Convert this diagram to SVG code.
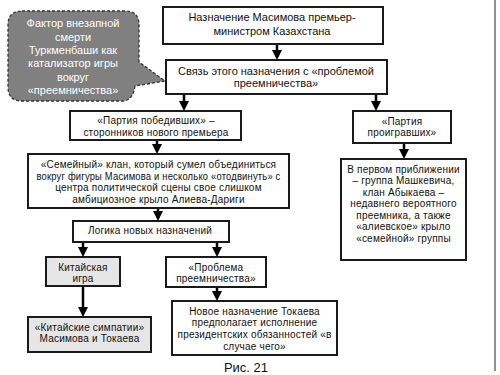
<svg xmlns="http://www.w3.org/2000/svg" width="500" height="375" viewBox="0 0 500 375">
<style>
.box{fill:#fff;stroke:#1a1a1a;stroke-width:2}
.gray{fill:#e6e6e6;stroke:#1a1a1a;stroke-width:2}
text{font-family:"Liberation Sans",Arial,sans-serif;fill:#111;text-anchor:middle}
.t11{font-size:11px}
.t10{font-size:10px;letter-spacing:0.2px}
.wt{fill:#fff;font-size:11px}
.conn line{stroke:#000;stroke-width:2.5;marker-end:url(#ah)}
</style>
<defs>
<marker id="ah" markerUnits="userSpaceOnUse" markerWidth="10" markerHeight="10" refX="7" refY="5" orient="auto" viewBox="0 0 10 10">
<path d="M0,0 L10,5 L0,10 z" fill="#000"/>
</marker>
</defs>
<rect width="500" height="375" fill="#fff"/>
<line x1="495" y1="0" x2="495" y2="371" stroke="#222" stroke-width="1"/>

<g id="callout">
<path d="M22,11 H125 Q139,11 139,25 V62 L165,81 L135,86 Q133,101 122,101 H22 Q8,101 8,87 V25 Q8,11 22,11 Z" fill="#808080" stroke="#333" stroke-width="1.3" stroke-dasharray="3,2"/>
<text class="wt" x="73" y="27">Фактор внезапной</text>
<text class="wt" x="73" y="41">смерти</text>
<text class="wt" x="73" y="54">Туркменбаши как</text>
<text class="wt" x="73" y="67">катализатор игры</text>
<text class="wt" x="73" y="81">вокруг</text>
<text class="wt" x="73" y="94">«преемничества»</text>
</g>

<g id="n1">
<rect class="box" x="163" y="7" width="220" height="37"/>
<text class="t11" x="272" y="21">Назначение Масимова премьер-</text>
<text class="t11" x="272" y="35">министром Казахстана</text>
</g>

<g id="n2">
<rect class="box" x="166" y="60" width="221" height="34"/>
<text class="t11" x="276" y="75">Связь этого назначения с «проблемой</text>
<text class="t11" x="276" y="87">преемничества»</text>
</g>

<g id="n3">
<rect class="box" x="70" y="111" width="171" height="29"/>
<text class="t10" x="156" y="123.5">«Партия победивших» –</text>
<text class="t10" x="156" y="135.5">сторонников нового премьера</text>
</g>

<g id="n4">
<rect class="box" x="353" y="111" width="98" height="32"/>
<text class="t10" x="402" y="124.5">«Партия</text>
<text class="t10" x="402" y="135.5">проигравших»</text>
</g>

<g id="n5">
<rect class="box" x="341" y="159" width="125" height="101"/>
<text class="t10" x="403.5" y="172.5">В первом приближении</text>
<text class="t10" x="403.5" y="184">– группа Машкевича,</text>
<text class="t10" x="403.5" y="195.5">клан Абыкаева –</text>
<text class="t10" x="403.5" y="207">недавнего вероятного</text>
<text class="t10" x="403.5" y="218.5">преемника, а также</text>
<text class="t10" x="403.5" y="230">«алиевское» крыло</text>
<text class="t10" x="403.5" y="241.5">«семейной» группы</text>
</g>

<g id="n6">
<rect class="box" x="28" y="154" width="261" height="54"/>
<text class="t10" x="158.5" y="167.5">«Семейный» клан, который сумел объединиться</text>
<text class="t10" x="158.5" y="179.5" textLength="244" lengthAdjust="spacingAndGlyphs">вокруг фигуры Масимова и несколько «отодвинуть» с</text>
<text class="t10" x="158.5" y="190.5">центра политической сцены свое слишком</text>
<text class="t10" x="158.5" y="202.5">амбициозное крыло Алиева-Дариги</text>
</g>

<g id="n7">
<rect class="box" x="73" y="221" width="156" height="21"/>
<text class="t10" x="150" y="233.5">Логика новых назначений</text>
</g>

<g id="n8">
<rect class="gray" x="46" y="257" width="74" height="29"/>
<text class="t10" x="83" y="270.5">Китайская</text>
<text class="t10" x="83" y="281.5">игра</text>
</g>

<g id="n9">
<rect class="box" x="166" y="257" width="100" height="30"/>
<text class="t10" x="216" y="270.5">«Проблема</text>
<text class="t10" x="216" y="281.5">преемничества»</text>
</g>

<g id="n10">
<rect class="gray" x="28" y="317" width="123" height="35"/>
<text class="t10" x="89.5" y="330.5">«Китайские симпатии»</text>
<text class="t10" x="89.5" y="341.5">Масимова и Токаева</text>
</g>

<g id="n11">
<rect class="box" x="172" y="301" width="165" height="54"/>
<text class="t10" x="254.5" y="314.5">Новое назначение Токаева</text>
<text class="t10" x="254.5" y="325.5">предполагает исполнение</text>
<text class="t10" x="254.5" y="337.5">президентских обязанностей «в</text>
<text class="t10" x="254.5" y="349.5">случае чего»</text>
</g>

<g id="connectors" class="conn">
<line x1="277" y1="45" x2="277" y2="57"/>
<line x1="184" y1="95" x2="184" y2="108"/>
<line x1="376" y1="95" x2="376" y2="108"/>
<line x1="157" y1="141" x2="157" y2="151"/>
<line x1="404" y1="144" x2="404" y2="156"/>
<line x1="158" y1="209" x2="158" y2="218"/>
<line x1="83" y1="243" x2="83" y2="254"/>
<line x1="217" y1="243" x2="217" y2="254"/>
<line x1="83" y1="287" x2="83" y2="314"/>
<line x1="217" y1="288" x2="217" y2="298"/>
</g>

<text x="246" y="372" style="font-size:13px">Рис. 21</text>
</svg>
